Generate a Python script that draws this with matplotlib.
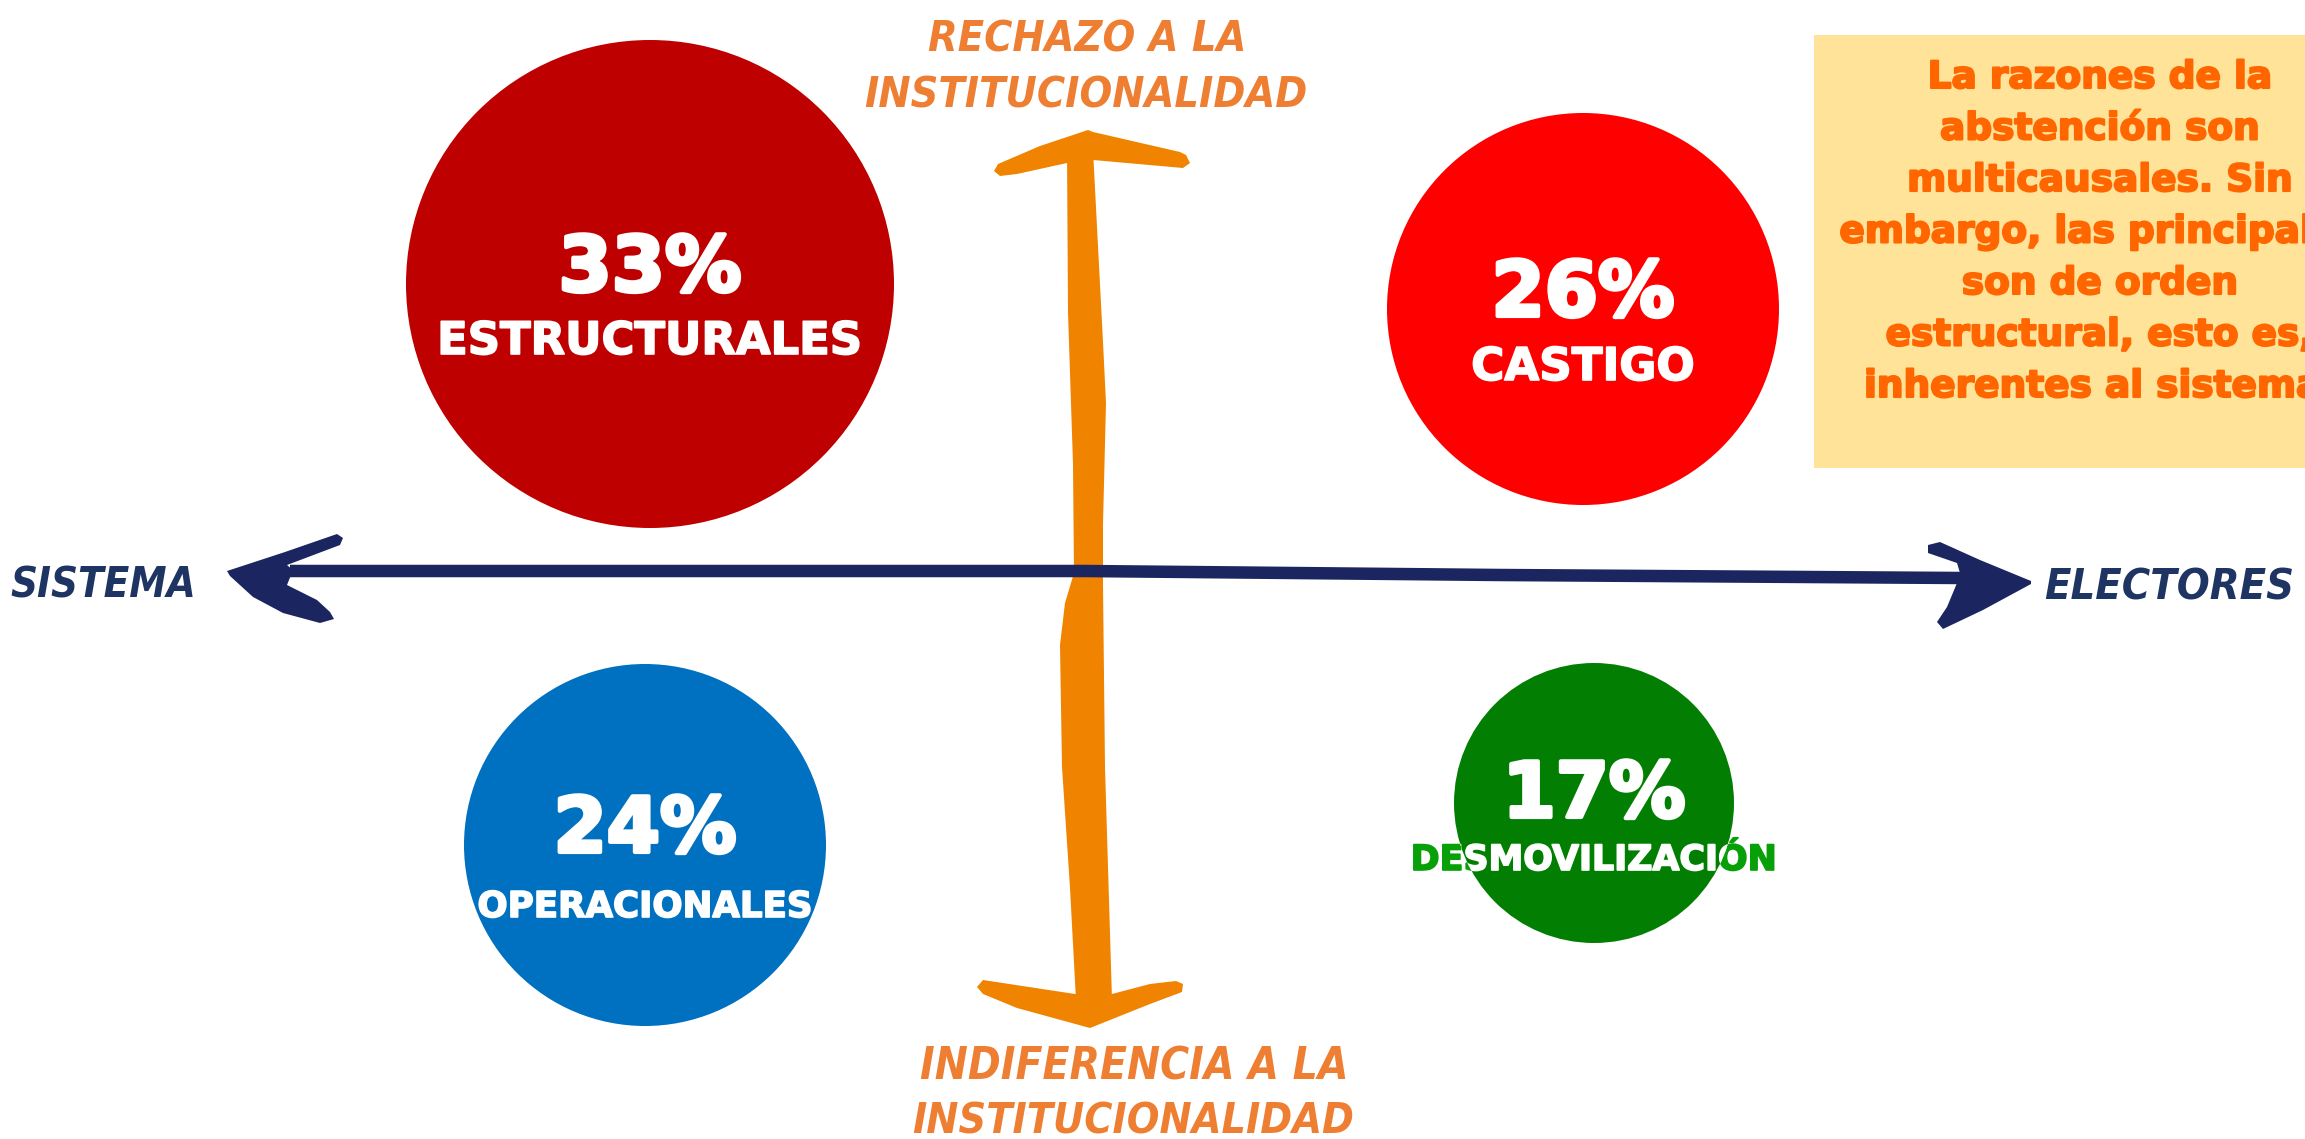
import matplotlib
matplotlib.use("Agg")
import matplotlib.pyplot as plt
import matplotlib.patheffects as pe
from matplotlib.patches import Circle, Polygon, Rectangle
import numpy as np

# ---------------- data ----------------
categories = ["ESTRUCTURALES", "CASTIGO", "OPERACIONALES", "DESMOVILIZACIÓN"]
values = [33, 26, 24, 17]
circle_colors = ["#BE0000", "#FE0000", "#0070C0", "#027F02"]
h_axis_labels = ["SISTEMA", "ELECTORES"]
v_axis_top = ["RECHAZO A LA", "INSTITUCIONALIDAD"]
v_axis_bottom = ["INDIFERENCIA A LA", "INSTITUCIONALIDAD"]
note_lines = ["La razones de la", "abstención son", "multicausales. Sin",
              "embargo, las principales", "son de orden",
              "estructural, esto es,", "inherentes al sistema."]

# ---------------- layout (pixel space) ----------------
W, H = 2305, 1139
centers = [(650, 284), (1583, 309), (645, 845), (1594, 803)]
radii = [244, 196, 181, 140]
pct_dy = [7, 7, 7, 14]
lab_dy = [70, 71, 72, 67]
lab_w = [426, 225, 336, 367]
NAVY = "#1B2660"
NAVY_TXT = "#1E3462"
ORANGE = "#F08300"
ORANGE_TXT = "#EE7E32"
NOTE_TXT = "#FF6600"

fig = plt.figure(figsize=(W / 100, H / 100), dpi=100)
ax = fig.add_axes([0, 0, 1, 1])
ax.set_xlim(0, W)
ax.set_ylim(H, 0)
ax.axis("off")
renderer = fig.canvas.get_renderer()


def fit(t, width, extra=1.0):
    fs = t.get_fontsize()
    w = t.get_window_extent(renderer).width
    t.set_fontsize(fs * width / w * extra)
    return t


def heavy(color, lw):
    return [pe.withStroke(linewidth=lw, foreground=color)]


bold_font = ["DejaVu Sans"]
brush = dict(family=["DejaVu Sans"], fontweight="bold",
             fontstyle="italic", fontstretch="condensed")

# ---------------- circles ----------------
for i, (cat, val, col) in enumerate(zip(categories, values, circle_colors)):
    cx, cy = centers[i]
    circ = Circle((cx, cy), radii[i], facecolor=col, edgecolor="none", zorder=2)
    ax.add_patch(circ)
    ax.text(cx, cy + pct_dy[i], f"{val}%", ha="center", va="baseline", color="white",
            fontsize=55, fontweight="bold", family=bold_font, zorder=4,
            path_effects=heavy("white", 3))
    if cat == "DESMOVILIZACIÓN":
        tg = ax.text(cx, cy + lab_dy[i], cat, ha="center", va="baseline", color="#08A008",
                     fontsize=20, fontweight="bold", family=bold_font, zorder=4)
        fit(tg, lab_w[i] - 2)
        tg.set_path_effects(heavy("#08A008", 1.2))
        tw = ax.text(cx, cy + lab_dy[i], cat, ha="center", va="baseline", color="white",
                     fontsize=tg.get_fontsize(), fontweight="bold", family=bold_font, zorder=5,
                     clip_on=True, path_effects=heavy("white", 1.2))
        tw.set_clip_path(circ)
    else:
        t = ax.text(cx, cy + lab_dy[i], cat, ha="center", va="baseline", color="white",
                    fontsize=20, fontweight="bold", family=bold_font, zorder=4)
        fit(t, lab_w[i] - 2)
        t.set_path_effects(heavy("white", 1.2))

# ---------------- vertical orange arrow ----------------
shaft = [(1067, 150), (1068, 312), (1073, 464), (1074, 573), (1065, 603), (1060, 645),
         (1062, 767), (1070, 888), (1076, 1000),
         (1112, 1000), (1105, 767), (1103, 585), (1103, 524), (1106, 403), (1103, 342),
         (1093, 150)]
ax.add_patch(Polygon(shaft, closed=True, facecolor=ORANGE, edgecolor="none", zorder=1))
top_head = [(1088, 130), (1040, 146), (998, 164), (994, 171), (1000, 176), (1017, 174),
            (1067, 163), (1093, 160), (1183, 168), (1190, 163), (1186, 155), (1180, 152),
            (1093, 132)]
ax.add_patch(Polygon(top_head, closed=True, facecolor=ORANGE, edgecolor="none", zorder=1))
bot_head = [(1075, 994), (983, 980), (977, 987), (983, 994), (1017, 1008), (1090, 1028),
            (1150, 1004), (1182, 992), (1183, 984), (1176, 981), (1150, 984), (1112, 994)]
ax.add_patch(Polygon(bot_head, closed=True, facecolor=ORANGE, edgecolor="none", zorder=1))

# ---------------- horizontal navy arrow ----------------
ax.plot([290, 700, 1085, 1500, 1960], [571, 571, 571, 575, 578], color=NAVY,
        lw=9, solid_capstyle="butt", zorder=3)
left_head = [(227, 571), (285, 552), (337, 534), (343, 538), (340, 545), (287, 565),
             (293, 570), (287, 585), (317, 600), (330, 612), (334, 619), (320, 623),
             (283, 613), (253, 597), (230, 576)]
ax.add_patch(Polygon(left_head, closed=True, facecolor=NAVY, edgecolor="none", zorder=3))
right_head = [(2031, 581), (1980, 560), (1940, 542), (1928, 545), (1928, 553), (1957, 563),
              (1960, 573), (1957, 583), (1947, 607), (1937, 622), (1943, 629), (1983, 610),
              (2031, 584)]
ax.add_patch(Polygon(right_head, closed=True, facecolor=NAVY, edgecolor="none", zorder=3))

# ---------------- axis labels ----------------
fit(ax.text(103, 598, h_axis_labels[0], ha="center", va="baseline", color=NAVY_TXT,
            fontsize=30, **brush), 177, 1.05)
fit(ax.text(2169, 599, h_axis_labels[1], ha="center", va="baseline", color=NAVY_TXT,
            fontsize=30, **brush), 238, 1.05)
fit(ax.text(1087, 52, v_axis_top[0], ha="center", va="baseline", color=ORANGE_TXT,
            fontsize=30, **brush), 303, 1.05)
fit(ax.text(1086, 108, v_axis_top[1], ha="center", va="baseline", color=ORANGE_TXT,
            fontsize=30, **brush), 422, 1.05)
fit(ax.text(1134, 1080, v_axis_bottom[0], ha="center", va="baseline", color=ORANGE_TXT,
            fontsize=30, **brush), 408, 1.05)
fit(ax.text(1133, 1133, v_axis_bottom[1], ha="center", va="baseline", color=ORANGE_TXT,
            fontsize=30, **brush), 420, 1.05)

# ---------------- note box ----------------
ax.add_patch(Rectangle((1814, 35), 520, 433, facecolor="#FFE399", edgecolor="none", zorder=1))
t0 = ax.text(2100, 88, note_lines[0], ha="center", va="baseline", color=NOTE_TXT,
             fontsize=30, fontweight="bold", family=bold_font, zorder=4)
fit(t0, 344)
fs = t0.get_fontsize()
t0.set_path_effects(heavy(NOTE_TXT, 1.5))
for k, line in enumerate(note_lines[1:], start=1):
    ax.text(2100, 88 + 51.5 * k, line, ha="center", va="baseline", color=NOTE_TXT,
            fontsize=fs, fontweight="bold", family=bold_font, zorder=4,
            path_effects=heavy(NOTE_TXT, 1.5))

fig.savefig("out.png", dpi=100, facecolor="white")
